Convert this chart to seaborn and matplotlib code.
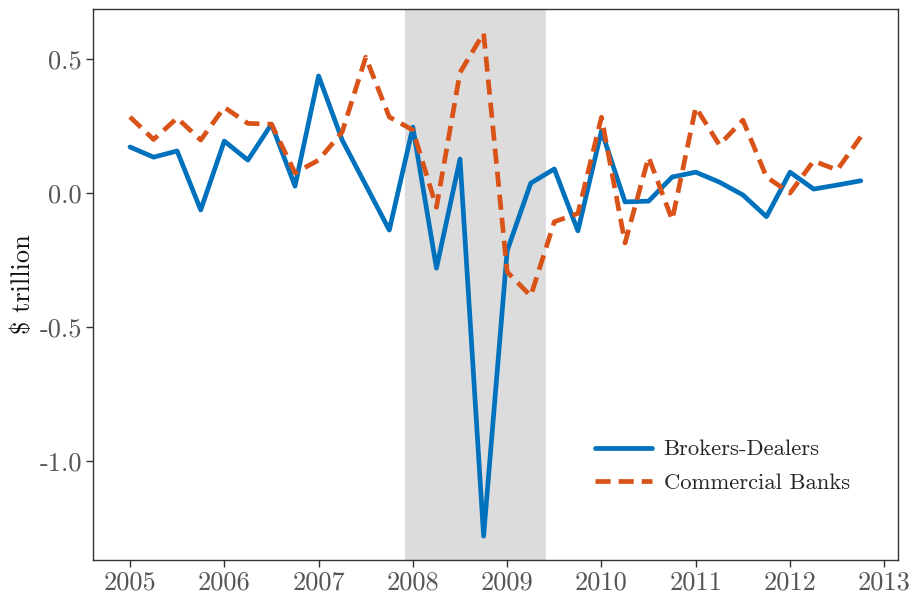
import matplotlib
matplotlib.use("Agg")
import matplotlib.pyplot as plt
import seaborn as sns
import numpy as np
import pandas as pd

quarters = [2005 + 0.25 * i for i in range(32)]
brokers_dealers = [0.172, 0.134, 0.157, -0.063, 0.194, 0.123, 0.257, 0.026,
                   0.437, 0.198, 0.030, -0.138, 0.246, -0.280, 0.127, -1.280,
                   -0.215, 0.037, 0.090, -0.141, 0.232, -0.033, -0.030, 0.060,
                   0.078, 0.041, -0.007, -0.088, 0.078, 0.015, 0.030, 0.046]
commercial_banks = [0.284, 0.200, 0.280, 0.198, 0.320, 0.260, 0.257, 0.075,
                    0.123, 0.228, 0.507, 0.284, 0.235, -0.053, 0.450, 0.597,
                    -0.294, -0.384, -0.107, -0.076, 0.283, -0.186, 0.134, -0.100,
                    0.320, 0.180, 0.272, 0.060, 0.000, 0.120, 0.086, 0.210]
recession = (2007 + 11 / 12, 2009 + 5 / 12)
xticks = [2005, 2006, 2007, 2008, 2009, 2010, 2011, 2012, 2013]
yticks = [-1.0, -0.5, 0.0, 0.5]

df = pd.DataFrame({
    "date": quarters * 2,
    "value": brokers_dealers + commercial_banks,
    "series": ["Brokers-Dealers"] * 32 + ["Commercial Banks"] * 32,
})

sns.set_style("white")
plt.rcParams["font.family"] = "serif"
plt.rcParams["font.serif"] = ["cmr10", "DejaVu Serif"]
plt.rcParams["mathtext.fontset"] = "cm"
plt.rcParams["axes.unicode_minus"] = False
plt.rcParams["axes.formatter.use_mathtext"] = True

fig, ax = plt.subplots(figsize=(9.14, 5.97), dpi=100)
fig.subplots_adjust(left=0.102, right=0.982, top=0.985, bottom=0.062)

ax.axvspan(recession[0], recession[1], color="#dcdcdc", zorder=0, lw=0)

sns.lineplot(data=df, x="date", y="value", hue="series", style="series",
             palette={"Brokers-Dealers": "#0072BD", "Commercial Banks": "#D95319"},
             dashes={"Brokers-Dealers": "", "Commercial Banks": (3.2, 1.7)},
             linewidth=3.4, ax=ax, zorder=3)

ax.set_xlim(2004.61, 2013.14)
ax.set_ylim(-1.369, 0.687)
ax.set_xticks(xticks)
ax.set_xticklabels([str(t) for t in xticks])
ax.set_yticks(yticks)
ax.set_yticklabels(["-1.0", "-0.5", "0.0", "0.5"])
ax.set_xlabel("")
ax.set_ylabel("\\$ trillion", fontsize=19, color="#111111", labelpad=3)
ax.tick_params(axis="both", which="major", direction="out", length=5, width=1,
               color="#333333", labelsize=19, labelcolor="#555555",
               bottom=True, left=True, pad=3)
for s in ax.spines.values():
    s.set_color("#333333")
    s.set_linewidth(1.0)

leg = ax.legend(loc="lower right", bbox_to_anchor=(0.966, 0.084), frameon=False,
                fontsize=16.3, handlelength=2.55, handletextpad=0.5,
                labelspacing=0.62, title=None)
for line in leg.get_lines():
    line.set_linewidth(3.4)

fig.savefig("out.png", dpi=100)
